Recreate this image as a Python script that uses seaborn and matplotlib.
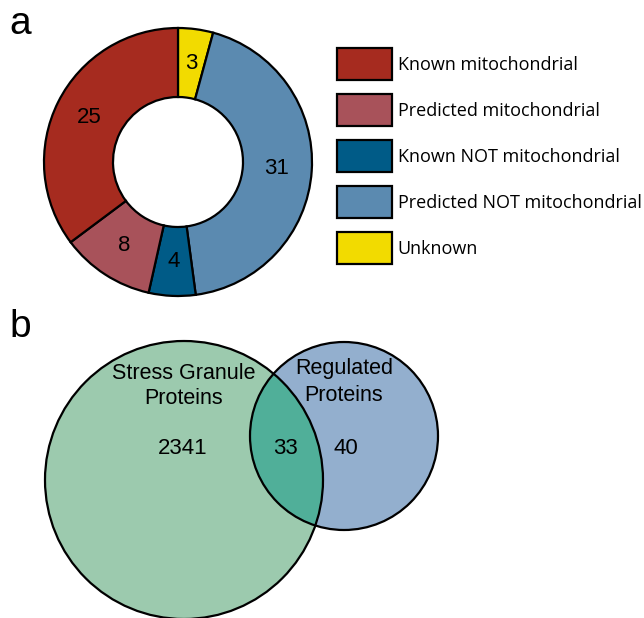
import matplotlib
matplotlib.use("Agg")
import matplotlib.pyplot as plt
from matplotlib.patches import Circle, Patch
import seaborn as sns

# Panel a: subcellular localisation counts (clockwise from 12 o'clock)
loc_labels = ["Unknown", "Predicted NOT mitochondrial", "Known NOT mitochondrial",
              "Predicted mitochondrial", "Known mitochondrial"]
loc_counts = [3, 31, 4, 8, 25]
loc_colors = ["#F2DB00", "#5B8AB0", "#005B87", "#A8525A", "#A62B1F"]
legend_order = ["Known mitochondrial", "Predicted mitochondrial", "Known NOT mitochondrial",
                "Predicted NOT mitochondrial", "Unknown"]

# Panel b: overlap of the two protein sets
set_names = ["Stress Granule\nProteins", "Regulated\nProteins"]
venn_counts = [2341, 33, 40]   # only stress granule, both, only regulated
venn_colors = ["#9CCAAE", "#93AFCE", "#50AF99"]

sns.set_theme(style="white")
plt.rcParams["font.family"] = ["Liberation Sans", "DejaVu Sans"]
plt.rcParams["text.color"] = "black"

W, H = 644, 618
fig = plt.figure(figsize=(W / 100, H / 100), dpi=100)
ax = fig.add_axes([0, 0, 1, 1])

def py(y):
    # convert top-down pixel rows to axis units
    return H - y

total = sum(loc_counts)
wedges, _, autotexts = ax.pie(
    loc_counts, colors=loc_colors, startangle=90, counterclock=False,
    radius=134, center=(178, py(162)),
    wedgeprops=dict(width=69, edgecolor="black", linewidth=1.6),
    autopct=lambda p: f"{round(p * total / 100)}", pctdistance=0.74,
    textprops=dict(fontsize=16, color="black"),
)

ax.set_xlim(0, W)
ax.set_ylim(0, H)
ax.set_aspect("equal")
ax.axis("off")

color_of = dict(zip(loc_labels, loc_colors))
handles = [Patch(facecolor=color_of[n], edgecolor="black", linewidth=1.6, label=n)
           for n in legend_order]
leg = ax.legend(handles=handles, loc="upper left", bbox_to_anchor=(337 / W, 1 - 48 / H),
                bbox_transform=fig.transFigure, frameon=False, borderpad=0,
                borderaxespad=0, handlelength=3.05, handleheight=2.35,
                handletextpad=0.32, labelspacing=0.775,
                prop=dict(family="Open Sans", size=13))

# Venn circles
big = Circle((184, py(480)), 139, facecolor=venn_colors[0], edgecolor="none", zorder=2)
small = Circle((344, py(436)), 94, facecolor=venn_colors[1], edgecolor="none", zorder=2)
ax.add_patch(big)
ax.add_patch(small)
inter = Circle((344, py(436)), 94, facecolor=venn_colors[2], edgecolor="none", zorder=3)
ax.add_patch(inter)
inter.set_clip_path(Circle((184, py(480)), 139, transform=ax.transData))
for c in [(184, py(480), 139), (344, py(436), 94)]:
    ax.add_patch(Circle(c[:2], c[2], facecolor="none", edgecolor="black",
                        linewidth=1.6, zorder=4))

ax.text(184, py(386), set_names[0], ha="center", va="center", fontsize=15.5,
        linespacing=1.3, zorder=5)
ax.text(344, py(382), set_names[1], ha="center", va="center", fontsize=15.5,
        linespacing=1.35, zorder=5)
for x, v in zip([183, 285, 346], venn_counts):
    ax.text(x, py(448), str(v), ha="center", va="center", fontsize=16, zorder=5)

ax.text(9, py(24), "a", ha="left", va="center", fontsize=28)
ax.text(9, py(327), "b", ha="left", va="center", fontsize=28)

fig.savefig("out.png", dpi=100)
